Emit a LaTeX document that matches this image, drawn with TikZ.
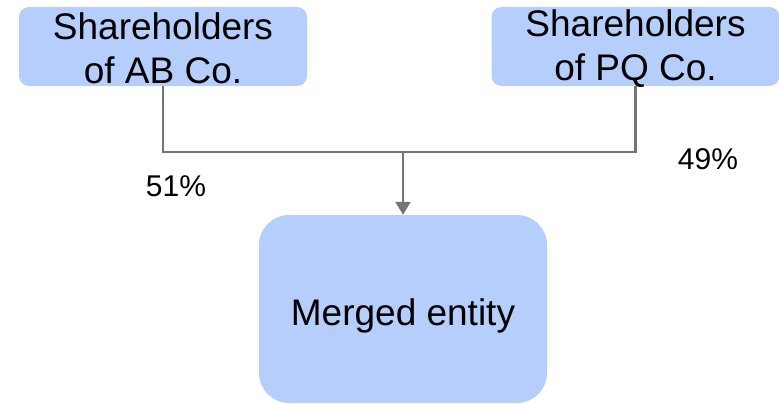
\documentclass[tikz,border=0pt]{standalone}
\usepackage{fontspec}
\setmainfont{Liberation Sans}
\usetikzlibrary{arrows.meta}
\definecolor{boxblue}{RGB}{181,206,252}
\definecolor{linegray}{RGB}{117,117,117}
\tikzset{
  holder/.style={fill=boxblue, draw=none, rounded corners=10pt, minimum width=288pt, minimum height=79pt, inner sep=0pt},
  merged/.style={fill=boxblue, draw=none, rounded corners=30pt, minimum width=288pt, minimum height=188pt, inner sep=0pt},
  boxtext/.style={inner sep=0pt, align=center, font=\fontsize{37}{44}\selectfont},
  conn/.style={draw=linegray, line width=2.2pt},
  pct/.style={font=\fontsize{30}{36}\selectfont, inner sep=0pt}
}
\begin{document}
\begin{tikzpicture}[x=1pt,y=-1pt]
\useasboundingbox (0,0) rectangle (779,404);
\node[holder] (ab) at (163,46.5) {};
\node[holder] (pq) at (635.5,46.5) {};
\node[merged] (m) at (403,309) {};
\node[boxtext] (abt) at ([yshift=-2pt]ab.center) {Shareholders\\of AB Co.};
\node[boxtext] (pqt) at ([yshift=-2pt]pq.center) {Shareholders\\of PQ Co.};
\node[boxtext] (mt) at ([yshift=-7pt]m.center) {Merged entity};
\coordinate (j) at (403,152);
\draw[conn] (ab.south) |- (j) -| (pq.south);
\draw[conn, -{Triangle[length=13pt,width=15pt]}] (j) -- (m.north);
\node[pct] (p51) at (176,186) {51\%};
\node[pct] (p49) at (708,159) {49\%};
\end{tikzpicture}
\end{document}
